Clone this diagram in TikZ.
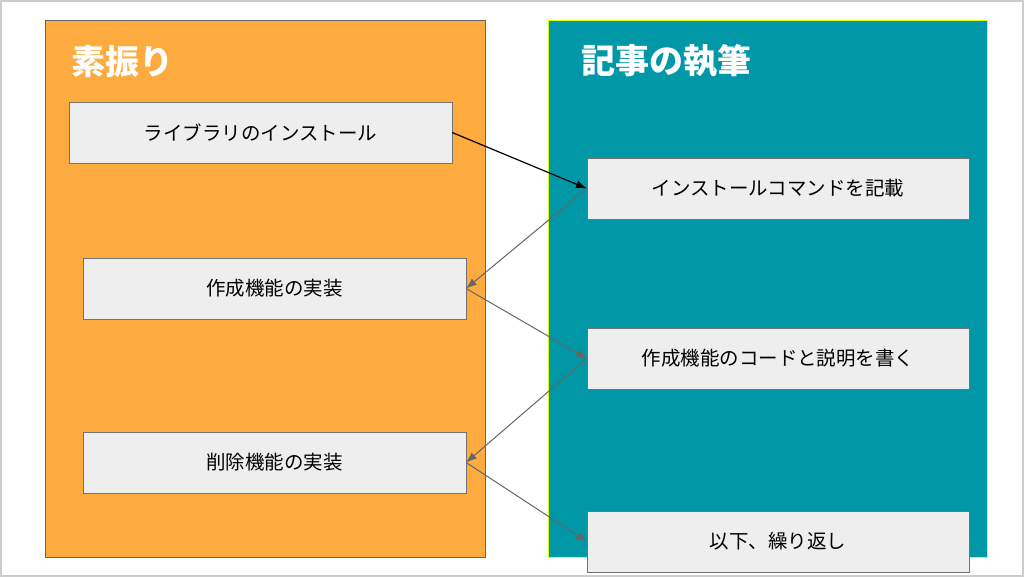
\documentclass[tikz,border=0pt]{standalone}
\usepackage{fontspec}
\setmainfont{Noto Sans CJK JP}
\usetikzlibrary{arrows.meta}
\definecolor{panelorange}{HTML}{FDAA3F}
\definecolor{panelteal}{HTML}{0097A7}
\definecolor{boxgray}{HTML}{EEEEEE}
\definecolor{linegray}{HTML}{666666}

\begin{document}
\begin{tikzpicture}[x=0.75pt, y=-0.75pt,
    panel/.style={rectangle, minimum width=330pt, minimum height=402.75pt, inner sep=0pt},
    title/.style={anchor=west, inner sep=0pt, text=white, font=\fontsize{25.5}{30}\selectfont\bfseries},
    task/.style={rectangle, draw=gray!90!black, fill=boxgray, minimum width=287pt, minimum height=45.75pt, inner sep=0pt, font=\fontsize{14.6}{18}\selectfont},
    arrow/.style={-{Latex[length=8pt,width=6pt]}, linegray, line width=0.75pt}
]
\useasboundingbox (0,0) rectangle (1024,577);
\draw[gray!40, line width=1.2pt] (0.8,0.8) rectangle (1023.2,576.2);

% Panels
\node[panel, draw=gray!80!black, fill=panelorange] (suburi) at (265, 288.5) {};
\node[panel, draw=lime!60!yellow, fill=panelteal, minimum width=329pt] (shippitsu) at (767.5, 288.5) {};

\node[title] (suburi_title) at (71, 62) {素振り};
\node[title] (shippitsu_title) at (581, 61) {記事の執筆};

% Left tasks
\node[task] (install) at (260.5, 132.5) {ライブラリのインストール};
\node[task] (create) at (274.5, 288.5) {作成機能の実装};
\node[task] (delete) at (274.5, 462.5) {削除機能の実装};

% Right tasks
\node[task, minimum width=286.5pt] (write_install) at (778, 188.5) {インストールコマンドを記載};
\node[task, minimum width=286.5pt] (write_create) at (778, 358.5) {作成機能のコードと説明を書く};
\node[task, minimum width=286.5pt] (repeat) at (778, 541.5) {以下、繰り返し};

% Arrows
\draw[arrow, black, line width=0.9pt] (install.east) -- (write_install.west);
\draw[arrow] (write_install.west) -- (create.east);
\draw[arrow] (create.east) -- (write_create.west);
\draw[arrow] (write_create.west) -- (delete.east);
\draw[arrow] (delete.east) -- (repeat.west);

\end{tikzpicture}
\end{document}
